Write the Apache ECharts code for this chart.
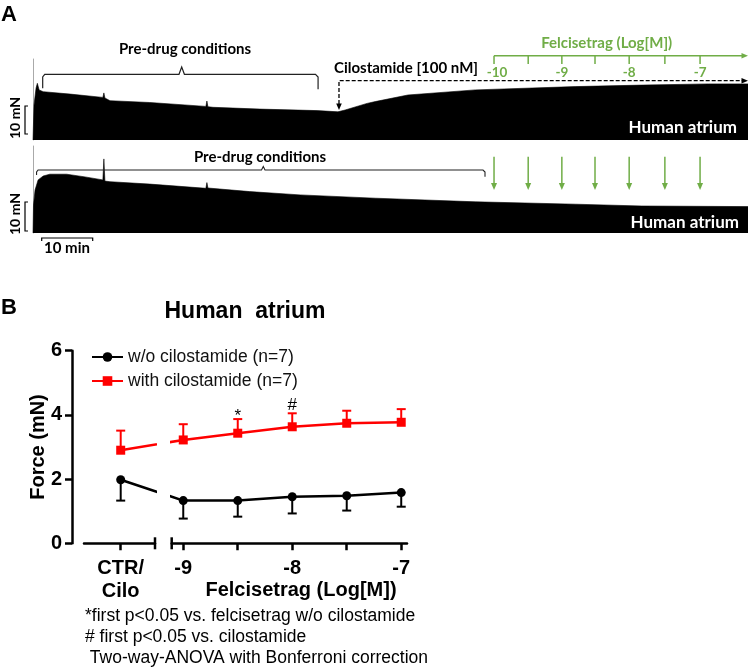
<!DOCTYPE html>
<html>
<head>
<meta charset="utf-8">
<script src="https://cdn.jsdelivr.net/npm/echarts@6/dist/echarts.min.js"></script>
<style>
html, body { margin: 0; padding: 0; background: #fff; }
#chart { width: 750px; height: 669px; }
</style>
</head>
<body>
<div id="chart"></div>
<script>
// ---------- panel A : force recordings (time in min, force in mN above baseline)
const trace1Time = [0, 0.2, 0.6, 0.85, 1.2, 2.0, 7.3, 13.7, 13.9, 14.1, 15.1, 22.9, 33.9, 34.1, 34.3, 35.3, 44.5, 55.7, 59.8, 61.2, 65.5, 67.1, 73.5, 86.7, 106.3, 119.4, 132.4, 140.2];
const trace1Force = [0, 11.7, 17.3, 18.9, 16.7, 16.1, 15.3, 14.2, 15.7, 14.0, 13.1, 12.5, 11.2, 13.0, 11.1, 10.9, 10.3, 9.8, 9.4, 10.0, 12.2, 12.8, 15.0, 16.7, 17.8, 18.3, 18.7, 18.7];
const trace2Time = [0, 0.1, 0.4, 1.0, 2.0, 3.3, 6.6, 10.2, 13.7, 13.9, 14.1, 15.1, 22.9, 33.9, 34.1, 34.3, 42.5, 52.4, 67.1, 86.7, 106.3, 119.4, 140.2];
const trace2Force = [0, 9.3, 14.3, 17.7, 19.0, 19.6, 19.6, 18.7, 17.7, 24.7, 17.3, 17.1, 16.3, 14.9, 16.8, 15.0, 13.8, 12.7, 11.6, 10.4, 9.6, 9.0, 8.8];
const cilostamideTime = 60;
const felcAddTimes = [90.4, 97.1, 103.7, 110.2, 116.9, 123.9, 130.8];
const felcAddLabels = ['-10', '', '-9', '', '-8', '', '-7'];

// ---------- panel B : force (mN), mean + SD
const felcLog = [-9, -8.5, -8, -7.5, -7];
const woMean = [1.33, 1.33, 1.45, 1.48, 1.58];
const woSd = [0.56, 0.50, 0.52, 0.46, 0.44];
const withMean = [3.22, 3.43, 3.63, 3.74, 3.77];
const withSd = [0.49, 0.44, 0.42, 0.39, 0.41];
const ctrWoMean = 1.98, ctrWoSd = 0.65;
const ctrWithMean = 2.9, ctrWithSd = 0.61;
const sigLog = [-8.5, -8];
const sigText = ['*', '#'];

// layout
const A_LEFT = 33, A_W = 715, T_MAX = 140.2;
const CTR_POS = -9.574; // where the CTR/Cilo point sits on the broken axis
const sigDy = [-3, -8];
const tPx = t => A_LEFT + t * A_W / T_MAX;
const GREEN = '#70ad47';
const ARIAL = 'Liberation Sans, Arial, sans-serif';
const CAL = 'Lato, sans-serif';

const woData = [[CTR_POS, ctrWoMean]].concat(felcLog.map((x, i) => [x, woMean[i]]));
const withData = [[CTR_POS, ctrWithMean]].concat(felcLog.map((x, i) => [x, withMean[i]]));
const woErr = [[CTR_POS, ctrWoMean, ctrWoSd]].concat(felcLog.map((x, i) => [x, woMean[i], woSd[i]]));
const withErr = [[CTR_POS, ctrWithMean, ctrWithSd]].concat(felcLog.map((x, i) => [x, withMean[i], withSd[i]]));
const sigData = sigLog.map(x => {
  const i = felcLog.indexOf(x);
  return [x, withMean[i] + withSd[i]];
});

function errRender(dir) {
  return function (params, api) {
    const x = api.value(0), m = api.value(1), sd = api.value(2);
    const p0 = api.coord([x, m]);
    const p1 = api.coord([x, m + dir * sd]);
    const color = api.visual('color');
    return {
      type: 'group',
      children: [
        { type: 'line', shape: { x1: p0[0], y1: p0[1], x2: p1[0], y2: p1[1] }, style: { stroke: color, lineWidth: 2 } },
        { type: 'line', shape: { x1: p1[0] - 4.5, y1: p1[1], x2: p1[0] + 4.5, y2: p1[1] }, style: { stroke: color, lineWidth: 2 } }
      ]
    };
  };
}

function text(x, y, str, opt, z) {
  return {
    type: 'text', x: x, y: y, z: z || 10,
    style: Object.assign({ text: str, fill: '#000', align: 'left', verticalAlign: 'middle', fontFamily: ARIAL, fontSize: 14 }, opt)
  };
}
function line(points, stroke, width, dash) {
  return { type: 'polyline', z: 10, shape: { points: points }, style: { stroke: stroke, lineWidth: width, lineDash: dash || null, fill: null } };
}
function tri(points, fill) {
  return { type: 'polygon', z: 10, shape: { points: points }, style: { fill: fill } };
}

const chart = echarts.init(document.getElementById('chart'));

const bGridTop = 350.7, bGridH = 192.6;
const axisStyle = { color: '#000', width: 2.5 };
const calBold = { fontFamily: CAL, fontWeight: 'bold', fontSize: 15 };

const graphics = [
  text(1, 15, 'A', { fontSize: 22, fontWeight: 'bold' }),
  text(1, 308, 'B', { fontSize: 22, fontWeight: 'bold' }),
  // trace 1 annotations
  text(185, 49, 'Pre-drug conditions', Object.assign({ align: 'center' }, calBold)),
  line([[tPx(1.9), 88.3], [tPx(1.9), 77], [tPx(2.3), 74.3], [179, 74.3], [181.7, 67], [184.4, 74.3], [315.5, 74.3], [tPx(55.9), 77], [tPx(55.9), 89.3]], '#222', 1.2),
  text(334, 68, 'Cilostamide [100 nM]', calBold),
  line([[tPx(cilostamideTime), 104], [tPx(cilostamideTime), 80.7], [742, 80.7]], '#000', 1.3, [4, 2]),
  tri([[tPx(cilostamideTime), 110], [tPx(cilostamideTime) - 2.8, 103.5], [tPx(cilostamideTime) + 2.8, 103.5]], '#000'),
  tri([[748, 80.7], [741.5, 78], [741.5, 83.4]], '#000'),
  text(606.7, 43, 'Felcisetrag (Log[M])', Object.assign({ align: 'center', fill: GREEN }, calBold)),
  line([[tPx(felcAddTimes[0]), 55.7], [742, 55.7]], GREEN, 1.5),
  tri([[748, 55.7], [741.5, 53], [741.5, 58.4]], GREEN),
  text(737, 128, 'Human atrium', { fontFamily: CAL, fontWeight: 'bold', fontSize: 17, align: 'right', fill: '#fff' }),
  // trace 2 annotations
  text(260, 157, 'Pre-drug conditions', Object.assign({ align: 'center' }, calBold)),
  line([[tPx(0.7), 175], [tPx(0.7), 172], [tPx(1), 170], [261.5, 170], [263.3, 166.5], [265, 170], [483, 170], [485, 172], [485, 176.7]], '#222', 1.1),
  text(739, 223, 'Human atrium', { fontFamily: CAL, fontWeight: 'bold', fontSize: 17, align: 'right', fill: '#fff' }),
  // scale bars
  line([[28, 106], [25, 106], [25, 134], [28, 134]], '#000', 1.2),
  line([[28, 202], [25, 202], [25, 231], [28, 231]], '#000', 1.2),
  line([[41.7, 241], [41.7, 238], [92.7, 238], [92.7, 241]], '#000', 1.2),
  text(67, 248, '10 min', Object.assign({ align: 'center' }, calBold)),
  { type: 'text', x: 15, y: 118, rotation: Math.PI / 2, style: { text: '10 mN', fontFamily: CAL, fontWeight: 'bold', fontSize: 14, align: 'center', verticalAlign: 'middle', fill: '#000' } },
  { type: 'text', x: 15, y: 214, rotation: Math.PI / 2, style: { text: '10 mN', fontFamily: CAL, fontWeight: 'bold', fontSize: 14, align: 'center', verticalAlign: 'middle', fill: '#000' } },
  // panel B texts
  text(245, 312, 'Human  atrium', { fontSize: 23, fontWeight: 'bold', align: 'center' }),
  { type: 'text', x: 38, y: 447, rotation: Math.PI / 2, style: { text: 'Force (mN)', fontFamily: ARIAL, fontWeight: 'bold', fontSize: 20, align: 'center', verticalAlign: 'middle', fill: '#000' } },
  text(301, 590, 'Felcisetrag (Log[M])', { fontSize: 20, fontWeight: 'bold', align: 'center' }),
  text(85, 616, '*first p<0.05 vs. felcisetrag w/o cilostamide', { fontSize: 17.5 }),
  text(85, 637, '# first p<0.05 vs. cilostamide', { fontSize: 17.5 }),
  text(85, 658, ' Two-way-ANOVA with Bonferroni correction', { fontSize: 17.5 })
];

felcAddTimes.forEach((t, i) => {
  const x = tPx(t);
  graphics.push(line([[x, 55.7], [x, 64]], GREEN, 1.5));
  if (felcAddLabels[i]) {
    graphics.push(text(x + (i === 0 ? 3 : 0), 72.5, felcAddLabels[i], { fontFamily: CAL, fontWeight: 'bold', fontSize: 13.5, align: 'center', fill: GREEN }));
  }
  graphics.push(line([[x, 156.7], [x, 185]], GREEN, 1.5));
  graphics.push(tri([[x, 190], [x - 3, 183], [x + 3, 183]], GREEN));
});

const lineSeries = (name, data, grid, color, symbol) => ({
  name: name,
  type: 'line',
  xAxisIndex: grid, yAxisIndex: grid,
  data: data,
  clip: true,
  symbol: symbol,
  symbolSize: 9,
  color: color,
  lineStyle: { color: color, width: 2.5 },
  itemStyle: { color: color },
  z: 3
});

const errSeries = (data, grid, color, dir) => ({
  type: 'custom',
  xAxisIndex: grid, yAxisIndex: grid,
  data: data,
  itemStyle: { color: color },
  renderItem: errRender(dir),
  encode: { x: 0, y: 1 },
  z: 2
});

chart.setOption({
  animation: false,
  grid: [
    { left: A_LEFT, width: A_W, top: 140 - 27 * 3, height: 27 * 3 },
    { left: A_LEFT, width: A_W, top: 233 - 29 * 3, height: 29 * 3 },
    { left: 84, width: 71, top: bGridTop, height: bGridH },
    { left: 171.7, width: 235.3, top: bGridTop, height: bGridH }
  ],
  xAxis: [
    { gridIndex: 0, type: 'value', min: 0, max: T_MAX, show: false },
    { gridIndex: 1, type: 'value', min: 0, max: T_MAX, show: false },
    {
      gridIndex: 2, type: 'value', min: -9.91, max: -9.26, offset: 2,
      axisLine: { lineStyle: axisStyle, symbol: ['none', 'rect'], symbolSize: [12, 2.5] },
      axisTick: { customValues: [CTR_POS], length: 7, lineStyle: axisStyle },
      axisLabel: { customValues: [CTR_POS], formatter: () => 'CTR/\nCilo', fontFamily: ARIAL, fontWeight: 'bold', fontSize: 20, lineHeight: 23, color: '#000', margin: 12 },
      splitLine: { show: false }
    },
    {
      gridIndex: 3, type: 'value', min: -9.106, max: -6.947, offset: 2,
      axisLine: { lineStyle: axisStyle, symbol: ['rect', 'none'], symbolSize: [12, 2.5] },
      axisTick: { customValues: felcLog, length: 7, lineStyle: axisStyle },
      axisLabel: { customValues: [-9, -8, -7], formatter: v => String(v), fontFamily: ARIAL, fontWeight: 'bold', fontSize: 20, lineHeight: 23, color: '#000', margin: 12 },
      splitLine: { show: false }
    }
  ],
  yAxis: [
    {
      gridIndex: 0, type: 'value', min: 0, max: 27,
      axisLine: { show: true, lineStyle: { color: '#aaa', width: 1 } },
      axisTick: { show: false }, axisLabel: { show: false }, splitLine: { show: false }
    },
    {
      gridIndex: 1, type: 'value', min: 0, max: 29,
      axisLine: { show: true, lineStyle: { color: '#aaa', width: 1 } },
      axisTick: { show: false }, axisLabel: { show: false }, splitLine: { show: false }
    },
    {
      gridIndex: 2, type: 'value', min: 0, max: 6, interval: 2, offset: 12,
      axisLine: { show: true, lineStyle: axisStyle },
      axisTick: { show: true, length: 7, lineStyle: axisStyle },
      axisLabel: { fontFamily: ARIAL, fontWeight: 'bold', fontSize: 20, color: '#000', margin: 10 },
      splitLine: { show: false }
    },
    { gridIndex: 3, type: 'value', min: 0, max: 6, show: false }
  ],
  legend: {
    orient: 'vertical', left: 86, top: 343,
    itemWidth: 31, itemHeight: 12, itemGap: 6,
    data: ['w/o cilostamide (n=7)', 'with cilostamide (n=7)'],
    textStyle: { fontFamily: ARIAL, fontSize: 17.5, color: '#111' }
  },
  series: [
    {
      type: 'line', xAxisIndex: 0, yAxisIndex: 0, symbol: 'none',
      data: trace1Time.map((t, i) => [t, trace1Force[i]]),
      lineStyle: { color: '#000', width: 0.6 }, areaStyle: { color: '#000', opacity: 1 }
    },
    {
      type: 'line', xAxisIndex: 1, yAxisIndex: 1, symbol: 'none',
      data: trace2Time.map((t, i) => [t, trace2Force[i]]),
      lineStyle: { color: '#000', width: 0.6 }, areaStyle: { color: '#000', opacity: 1 }
    },
    errSeries(woErr.slice(0, 1), 2, '#000', -1),
    errSeries(woErr.slice(1), 3, '#000', -1),
    errSeries(withErr.slice(0, 1), 2, '#ff0000', 1),
    errSeries(withErr.slice(1), 3, '#ff0000', 1),
    lineSeries('w/o cilostamide (n=7)', woData, 2, '#000', 'circle'),
    lineSeries('w/o cilostamide (n=7)', woData, 3, '#000', 'circle'),
    lineSeries('with cilostamide (n=7)', withData, 2, '#ff0000', 'rect'),
    lineSeries('with cilostamide (n=7)', withData, 3, '#ff0000', 'rect'),
    {
      type: 'custom', xAxisIndex: 3, yAxisIndex: 3, data: sigData, encode: { x: 0, y: 1 },
      renderItem: (params, api) => {
        const p = api.coord([api.value(0), api.value(1)]);
        const i = params.dataIndex;
        return { type: 'text', x: p[0], y: p[1] + sigDy[i], style: { text: sigText[i], fontFamily: ARIAL, fontSize: 17, fill: '#000', align: 'center', verticalAlign: 'middle' } };
      }
    }
  ],
  graphic: graphics
});
</script>
</body>
</html>
